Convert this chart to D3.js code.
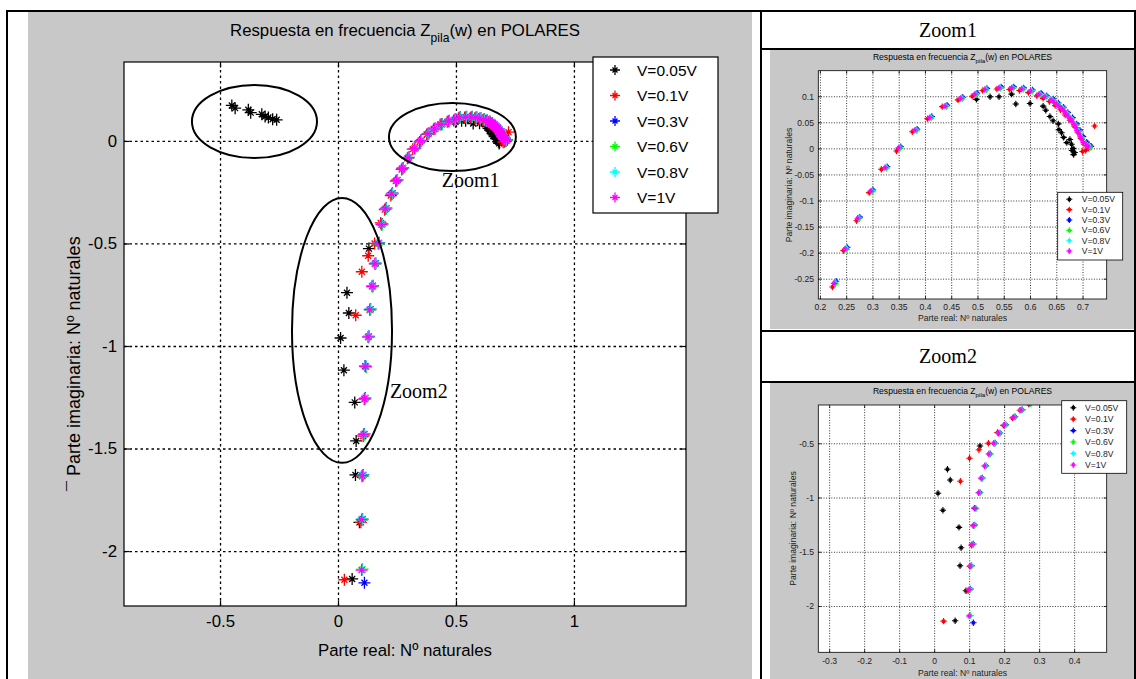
<!DOCTYPE html>
<html>
<head>
<meta charset="utf-8">
<script src="https://cdn.jsdelivr.net/npm/d3@7"></script>
<style>
body { margin: 0; background: #fff; }
</style>
</head>
<body>
<script>
// series names and colours (MATLAB default order used in the plot)
var labels = ["V=0.05V", "V=0.1V", "V=0.3V", "V=0.6V", "V=0.8V", "V=1V"];
var colors = ["#000000", "#ff0000", "#0000ff", "#00ff00", "#00ffff", "#ff00ff"];

// [parte real, parte imaginaria]
var v005 = [[-0.450,0.173],[-0.436,0.160],[-0.380,0.152],[-0.370,0.138],[-0.323,0.130],[-0.309,0.119],[-0.295,0.114],[-0.277,0.106],[-0.260,0.103],
  [0.685,-0.008],[0.683,-0.012],[0.680,-0.004],[0.682,0.000],[0.679,0.008],[0.670,0.011],[0.676,0.017],[0.664,0.021],[0.660,0.030],[0.655,0.036],
  [0.654,0.047],[0.644,0.053],[0.638,0.061],[0.630,0.073],[0.625,0.081],[0.600,0.086],[0.573,0.085],[0.565,0.104],[0.541,0.099],[0.524,0.099],[0.498,0.094],
  [0.131,-0.525],[0.038,-0.740],[0.046,-0.839],[0.011,-0.961],[0.025,-1.118],[0.071,-1.275],[0.077,-1.463],[0.074,-1.629],[0.091,-1.860],[0.060,-2.136]];
var v01 = [[0.723,0.043],[0.716,0.004],[0.712,0.000],[0.706,-0.004],[0.700,-0.006],[0.703,0.008],[0.697,0.019],[0.691,0.031],[0.684,0.043],[0.676,0.054],
  [0.667,0.064],[0.658,0.074],[0.648,0.082],[0.637,0.090],[0.625,0.096],[0.613,0.101],[0.597,0.107],[0.580,0.111],[0.561,0.113],[0.537,0.114],[0.510,0.111],
  [0.490,0.100],[0.463,0.093],[0.433,0.080],[0.405,0.057],[0.376,0.032],[0.346,-0.005],[0.317,-0.040],[0.294,-0.085],[0.270,-0.139],[0.245,-0.196],[0.224,-0.266],
  [0.198,-0.335],[0.181,-0.400],[0.155,-0.500],[0.128,-0.560],[0.101,-0.638],[0.075,-0.850],[0.112,-1.260],[0.107,-1.440],[0.102,-1.635],[0.097,-1.860],[0.027,-2.140]];
var v03 = [[0.716,0.004],[0.708,0.012],[0.701,0.023],[0.695,0.035],[0.689,0.047],[0.681,0.059],[0.672,0.069],[0.664,0.079],[0.654,0.087],[0.644,0.095],
  [0.632,0.101],[0.621,0.106],[0.605,0.112],[0.588,0.116],[0.569,0.118],[0.545,0.118],[0.518,0.115],[0.499,0.106],[0.472,0.098],[0.442,0.083],[0.413,0.061],
  [0.385,0.037],[0.354,0.003],[0.328,-0.035],[0.301,-0.080],[0.276,-0.132],[0.252,-0.190],[0.231,-0.255],[0.205,-0.328],[0.188,-0.405],[0.174,-0.497],
  [0.160,-0.596],[0.148,-0.706],[0.138,-0.820],[0.131,-0.953],[0.115,-1.098],[0.116,-1.254],[0.112,-1.429],[0.107,-1.629],[0.104,-1.844],[0.112,-2.155]];
var v06 = [[0.715,0.002],[0.707,0.009],[0.700,0.020],[0.694,0.032],[0.688,0.044],[0.680,0.056],[0.671,0.066],[0.663,0.076],[0.653,0.084],[0.643,0.092],
  [0.631,0.098],[0.620,0.103],[0.604,0.109],[0.587,0.113],[0.568,0.115],[0.544,0.115],[0.517,0.112],[0.498,0.103],[0.471,0.095],[0.441,0.080],[0.412,0.058],
  [0.384,0.034],[0.353,0.000],[0.327,-0.038],[0.300,-0.083],[0.275,-0.135],[0.251,-0.194],[0.230,-0.260],[0.204,-0.332],[0.187,-0.409],[0.173,-0.502],
  [0.159,-0.601],[0.147,-0.711],[0.137,-0.825],[0.130,-0.958],[0.120,-1.102],[0.115,-1.259],[0.111,-1.434],[0.106,-1.634],[0.103,-1.849],[0.104,-2.088]];
var v08 = [[0.713,0.004],[0.705,0.010],[0.698,0.021],[0.692,0.034],[0.686,0.046],[0.678,0.058],[0.670,0.068],[0.662,0.078],[0.652,0.086],[0.642,0.094],
  [0.630,0.100],[0.619,0.105],[0.603,0.111],[0.586,0.115],[0.567,0.117],[0.543,0.117],[0.516,0.114],[0.497,0.105],[0.470,0.097],[0.440,0.082],[0.411,0.060],
  [0.383,0.036],[0.352,0.002],[0.326,-0.036],[0.299,-0.081],[0.274,-0.133],[0.250,-0.191],[0.229,-0.257],[0.203,-0.329],[0.186,-0.406],[0.172,-0.498],
  [0.158,-0.597],[0.146,-0.707],[0.136,-0.821],[0.129,-0.954],[0.119,-1.098],[0.114,-1.255],[0.110,-1.430],[0.105,-1.630],[0.102,-1.845],[0.102,-2.091]];
var v1 = [[0.711,0.003],[0.707,0.006],[0.702,0.011],[0.699,0.017],[0.696,0.022],[0.693,0.028],[0.690,0.034],[0.687,0.040],[0.684,0.046],[0.680,0.052],
  [0.676,0.057],[0.672,0.062],[0.668,0.067],[0.664,0.072],[0.660,0.077],[0.655,0.081],[0.650,0.085],[0.645,0.089],[0.640,0.093],[0.628,0.099],[0.617,0.104],
  [0.601,0.110],[0.584,0.114],[0.565,0.116],[0.541,0.116],[0.514,0.113],[0.495,0.104],[0.468,0.096],[0.438,0.081],[0.409,0.059],[0.381,0.035],[0.350,0.001],
  [0.324,-0.037],[0.297,-0.082],[0.272,-0.134],[0.248,-0.193],[0.227,-0.259],[0.201,-0.331],[0.184,-0.408],[0.170,-0.500],[0.156,-0.599],[0.144,-0.709],
  [0.134,-0.823],[0.127,-0.956],[0.117,-1.100],[0.112,-1.257],[0.108,-1.432],[0.103,-1.632],[0.100,-1.847],[0.100,-2.093]];
var series = [v005, v01, v03, v06, v08, v1];

// tick values of the three views
var mainXTicks = [-0.5, 0, 0.5, 1];
var mainYTicks = [-2, -1.5, -1, -0.5, 0];
var zoom1XTicks = [0.2, 0.25, 0.3, 0.35, 0.4, 0.45, 0.5, 0.55, 0.6, 0.65, 0.7];
var zoom1YTicks = [-0.25, -0.2, -0.15, -0.1, -0.05, 0, 0.05, 0.1];
var zoom2XTicks = [-0.3, -0.2, -0.1, 0, 0.1, 0.2, 0.3, 0.4];
var zoom2YTicks = [-2, -1.5, -1, -0.5];

var FONT = "'Liberation Sans', Arial, sans-serif";
var SERIF = "'Liberation Serif', 'Times New Roman', serif";
var GRAY = "#c8c8c8";

var svg = d3.select("body").append("svg").attr("width", 1136).attr("height", 679);

// MATLAB '*' marker: long + arms, shorter diagonals
function star(s) {
  var a = s * 0.5;
  return "M" + (-s) + ",0H" + s + "M0," + (-s) + "V" + s +
    "M" + (-a) + "," + (-a) + "L" + a + "," + a + "M" + (-a) + "," + a + "L" + a + "," + (-a);
}

function title(g, cx, cy, fs) {
  var t = g.append("text").attr("x", cx).attr("y", cy).attr("text-anchor", "middle")
    .attr("font-family", FONT).attr("font-size", fs).attr("fill", "#000");
  t.append("tspan").text("Respuesta en frecuencia Z");
  t.append("tspan").attr("dy", fs * 0.35).attr("font-size", fs * 0.72).text("pila");
  t.append("tspan").attr("dy", -fs * 0.35).text("(w) en POLARES");
}

function panel(p, id) {
  var L = p.box[0], T = p.box[1], W = p.box[2], H = p.box[3];
  var x = d3.scaleLinear().domain(p.xd).range([L, L + W]);
  var y = d3.scaleLinear().domain(p.yd).range([T + H, T]);
  var g = svg.append("g");

  g.append("rect").attr("x", L).attr("y", T).attr("width", W).attr("height", H).attr("fill", "#fff");

  // dotted grid
  g.append("g").attr("transform", "translate(0," + (T + H) + ")")
    .call(d3.axisBottom(x).tickValues(p.xt).tickSize(-H).tickFormat(""))
    .call(s => s.select(".domain").remove())
    .selectAll("line").attr("stroke", "#000").attr("stroke-width", p.gw).attr("stroke-dasharray", p.dash);
  g.append("g").attr("transform", "translate(" + L + ",0)")
    .call(d3.axisLeft(y).tickValues(p.yt).tickSize(-W).tickFormat(""))
    .call(s => s.select(".domain").remove())
    .selectAll("line").attr("stroke", "#000").attr("stroke-width", p.gw).attr("stroke-dasharray", p.dash);

  // data
  var clip = g.append("clipPath").attr("id", id);
  clip.append("rect").attr("x", L).attr("y", T).attr("width", W).attr("height", H);
  var dg = g.append("g").attr("clip-path", "url(#" + id + ")");
  series.forEach(function(s, i) {
    dg.append("g").selectAll("path").data(s).join("path")
      .attr("transform", d => "translate(" + x(d[0]) + "," + y(d[1]) + ")")
      .attr("d", star(p.ms)).attr("fill", "none")
      .attr("stroke", colors[i]).attr("stroke-width", p.mw);
  });

  // axes with inward ticks
  var axes = [
    [d3.axisBottom(x).tickValues(p.xt).tickFormat(d => String(d)).tickPadding(p.xpad), 0, T + H],
    [d3.axisTop(x).tickValues(p.xt).tickFormat(""), 0, T],
    [d3.axisLeft(y).tickValues(p.yt).tickFormat(d => String(d)).tickPadding(p.ypad), L, 0],
    [d3.axisRight(y).tickValues(p.yt).tickFormat(""), L + W, 0]
  ];
  axes.forEach(function(a) {
    var ag = g.append("g").attr("transform", "translate(" + a[1] + "," + a[2] + ")")
      .call(a[0].tickSize(-p.tl).tickSizeOuter(0))
      .attr("font-family", FONT).attr("font-size", p.fs);
    ag.select(".domain").remove();
    ag.selectAll("line").attr("stroke", "#000").attr("stroke-width", p.aw);
    ag.selectAll("text").attr("fill", p.tc);
  });
  g.append("rect").attr("x", L).attr("y", T).attr("width", W).attr("height", H)
    .attr("fill", "none").attr("stroke", "#000").attr("stroke-width", p.aw);

  title(g, L + W / 2, p.titleY, p.fs);
  g.append("text").attr("x", L + W / 2).attr("y", p.xlabY).attr("text-anchor", "middle")
    .attr("font-family", FONT).attr("font-size", p.fs).attr("fill", p.tc)
    .text("Parte real: Nº naturales");
  g.append("text").attr("transform", "translate(" + p.ylab[0] + "," + p.ylab[1] + ") rotate(-90)")
    .attr("text-anchor", p.ylab[2]).attr("font-family", FONT).attr("font-size", p.ylab[3]).attr("fill", p.tc)
    .text(p.ylabText);

  // legend
  var lg = p.leg;
  g.append("rect").attr("x", lg.box[0]).attr("y", lg.box[1]).attr("width", lg.box[2]).attr("height", lg.box[3])
    .attr("fill", "#fff").attr("stroke", "#000").attr("stroke-width", p.aw);
  labels.forEach(function(lb, i) {
    var yy = lg.y0 + i * lg.dy;
    g.append("path").attr("transform", "translate(" + lg.mx + "," + yy + ")")
      .attr("d", star(lg.ms)).attr("fill", "none").attr("stroke", colors[i]).attr("stroke-width", p.mw);
    g.append("text").attr("x", lg.tx).attr("y", yy).attr("dy", "0.36em")
      .attr("font-family", FONT).attr("font-size", lg.fs).attr("fill", p.tc).text(lb);
  });
  return { x: x, y: y, g: g };
}

// backgrounds of the three figure pictures
svg.append("rect").attr("x", 28).attr("y", 12).attr("width", 724).attr("height", 667).attr("fill", GRAY);
svg.append("rect").attr("x", 770).attr("y", 50).attr("width", 364).attr("height", 279).attr("fill", GRAY);
svg.append("rect").attr("x", 770).attr("y", 383).attr("width", 364).attr("height", 296).attr("fill", GRAY);

var main = panel({
  box: [124, 62, 562, 544], xd: [-0.907, 1.475], yd: [-2.268, 0.385],
  xt: mainXTicks, yt: mainYTicks, fs: 16.8, tc: "#000",
  ms: 6, mw: 1.3, gw: 1.3, dash: "2.5,3", aw: 1.2, tl: 5.5, xpad: 9, ypad: 7,
  titleY: 36, xlabY: 656, ylab: [80, 491, "start", 18], ylabText: "¯ Parte imaginaria: Nº naturales",
  leg: { box: [593, 57, 125, 156], y0: 70, dy: 25.5, mx: 615, tx: 637, fs: 15.5, ms: 5 }
}, "clipMain");

panel({
  box: [818.3, 70.7, 288.4, 228.3], xd: [0.197, 0.746], yd: [-0.289, 0.149],
  xt: zoom1XTicks, yt: zoom1YTicks, fs: 8.6, tc: "#222",
  ms: 3.2, mw: 1.1, gw: 0.8, dash: "1,1.6", aw: 0.8, tl: 3, xpad: 4.6, ypad: 4.3,
  titleY: 60, xlabY: 321, ylab: [792, 185, "middle", 8.6], ylabText: "Parte imaginaria: Nº naturales",
  leg: { box: [1057.7, 192.3, 65, 67.7], y0: 199.3, dy: 10.35, mx: 1069.3, tx: 1081.7, fs: 8.6, ms: 3 }
}, "clipZ1");

panel({
  box: [818.3, 405, 288.4, 247.3], xd: [-0.331, 0.493], yd: [-2.427, -0.147],
  xt: zoom2XTicks, yt: zoom2YTicks, fs: 8.6, tc: "#222",
  ms: 3.2, mw: 1.1, gw: 0.8, dash: "1,1.6", aw: 0.8, tl: 3, xpad: 5.6, ypad: 4.3,
  titleY: 394, xlabY: 675.7, ylab: [795.7, 528.5, "middle", 8.6], ylabText: "Parte imaginaria: Nº naturales",
  leg: { box: [1061.7, 400.7, 65, 72.6], y0: 407.7, dy: 11.45, mx: 1073.3, tx: 1085, fs: 8.6, ms: 3 }
}, "clipZ2");

// hand drawn marks on the main picture (in data units)
var ann = main.g.append("g").attr("fill", "none").attr("stroke", "#000").attr("stroke-width", 2);
var mx = main.x, my = main.y;
function ell(cx, cy, rx, ry) {
  ann.append("ellipse").attr("cx", mx(cx)).attr("cy", my(cy))
    .attr("rx", mx(cx + rx) - mx(cx)).attr("ry", my(cy) - my(cy + ry));
}
ell(-0.354, 0.095, 0.265, 0.178);
ell(0.485, 0.0195, 0.269, 0.166);
ell(0.017, -0.924, 0.212, 0.646);
main.g.append("text").attr("x", mx(0.44)).attr("y", my(-0.224)).attr("font-family", SERIF)
  .attr("font-size", 20).text("Zoom1");
main.g.append("text").attr("x", mx(0.22)).attr("y", my(-1.254)).attr("font-family", SERIF)
  .attr("font-size", 20).text("Zoom2");

// table borders and headers
var bd = svg.append("g").attr("stroke", "#000").attr("stroke-width", 2);
bd.append("line").attr("x1", 6).attr("x2", 1136).attr("y1", 11).attr("y2", 11);
bd.append("line").attr("x1", 7).attr("x2", 7).attr("y1", 10).attr("y2", 679);
bd.append("line").attr("x1", 761).attr("x2", 761).attr("y1", 10).attr("y2", 679);
bd.append("line").attr("x1", 1135).attr("x2", 1135).attr("y1", 10).attr("y2", 679);
bd.append("line").attr("x1", 761).attr("x2", 1136).attr("y1", 49).attr("y2", 49);
bd.append("line").attr("x1", 761).attr("x2", 1136).attr("y1", 331).attr("y2", 331);
bd.append("line").attr("x1", 761).attr("x2", 1136).attr("y1", 382).attr("y2", 382);
svg.append("text").attr("x", 948).attr("y", 37).attr("text-anchor", "middle")
  .attr("font-family", SERIF).attr("font-size", 20).text("Zoom1");
svg.append("text").attr("x", 948).attr("y", 363).attr("text-anchor", "middle")
  .attr("font-family", SERIF).attr("font-size", 20).text("Zoom2");
</script>
</body>
</html>
